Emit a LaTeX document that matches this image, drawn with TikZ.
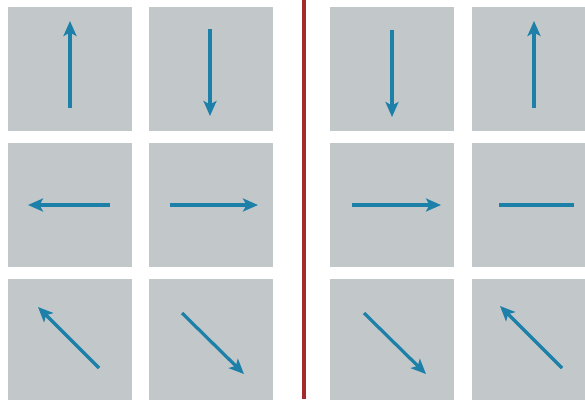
\documentclass[tikz,border=0pt]{standalone}
\usetikzlibrary{arrows.meta}
\definecolor{tile}{RGB}{194,199,202}
\definecolor{arrowblue}{RGB}{28,128,168}
\definecolor{divider}{RGB}{165,42,45}
\tikzset{
  tilebox/.style={fill=tile, draw=none},
  vec/.style={draw=arrowblue, line width=3.2pt, -{Stealth[length=15pt,width=13pt,inset=3.5pt]}},
  bar/.style={draw=arrowblue, line width=3.2pt},
  divline/.style={draw=divider, line width=4pt}
}
\begin{document}
\begin{tikzpicture}[x=1pt,y=-1pt]
\useasboundingbox (0,0) rectangle (585,399);
\clip (0,0) rectangle (585,399);
\fill[white] (0,0) rectangle (585,399);
% tiles
\foreach \cx/\cn in {8/a,149/b,330/c,472/d}{
  \foreach \ry/\rn in {7/1,143/2,279/3}{
    \path[tilebox] (\cx,\ry) rectangle ++(124,124);
  }
}
% divider
\coordinate (dtop) at (304,0);
\coordinate (dbot) at (304,399);
\draw[divline] (dtop) -- (dbot);
% row 1
\coordinate (a1s) at (70,108); \coordinate (a1e) at (70,21);
\coordinate (b1s) at (210,29);  \coordinate (b1e) at (210,116);
\coordinate (c1s) at (392,30);  \coordinate (c1e) at (392,117);
\coordinate (d1s) at (534,108); \coordinate (d1e) at (534,21);
\draw[vec] (a1s) -- (a1e);
\draw[vec] (b1s) -- (b1e);
\draw[vec] (c1s) -- (c1e);
\draw[vec] (d1s) -- (d1e);
% row 2
\coordinate (a2s) at (110,205); \coordinate (a2e) at (28,205);
\coordinate (b2s) at (170,205); \coordinate (b2e) at (258,205);
\coordinate (c2s) at (352,205); \coordinate (c2e) at (441,205);
\coordinate (d2s) at (499,205); \coordinate (d2e) at (574,205);
\draw[vec] (a2s) -- (a2e);
\draw[vec] (b2s) -- (b2e);
\draw[vec] (c2s) -- (c2e);
\draw[bar] (d2s) -- (d2e);
% row 3
\coordinate (a3s) at (99,368);  \coordinate (a3e) at (38,307);
\coordinate (b3s) at (182,313); \coordinate (b3e) at (244,374);
\coordinate (c3s) at (364,313); \coordinate (c3e) at (426,374);
\coordinate (d3s) at (562,368); \coordinate (d3e) at (500,306);
\draw[vec] (a3s) -- (a3e);
\draw[vec] (b3s) -- (b3e);
\draw[vec] (c3s) -- (c3e);
\draw[vec] (d3s) -- (d3e);
\end{tikzpicture}
\end{document}
